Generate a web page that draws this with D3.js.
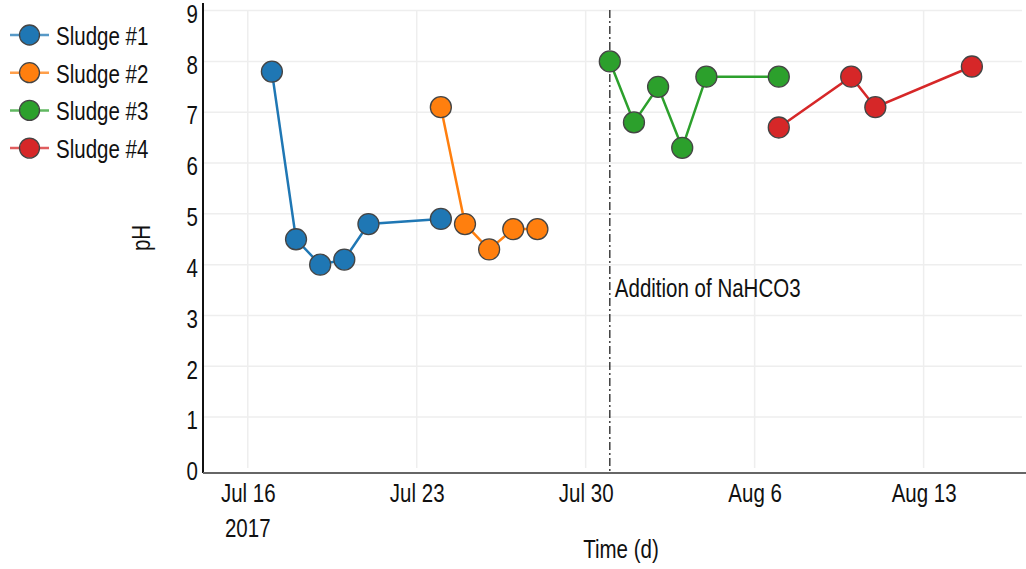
<!DOCTYPE html>
<html>
<head>
<meta charset="utf-8">
<script src="https://cdn.jsdelivr.net/npm/d3@7"></script>
<style>
  html, body { margin: 0; padding: 0; background: #fff; }
  svg { display: block; font-family: "Liberation Sans", Arial, sans-serif; }
</style>
</head>
<body>
<svg id="chart" width="1026" height="569"></svg>
<script>
// pH measurements per sludge batch
const seriesNames = ["Sludge #1", "Sludge #2", "Sludge #3", "Sludge #4"];
const seriesColors = ["#1f77b4", "#ff7f0e", "#2ca02c", "#d62728"];

const sludge1Dates = ["2017-07-17", "2017-07-18", "2017-07-19", "2017-07-20", "2017-07-21", "2017-07-24"];
const sludge1PH    = [7.8, 4.5, 4.0, 4.1, 4.8, 4.9];

const sludge2Dates = ["2017-07-24", "2017-07-25", "2017-07-26", "2017-07-27", "2017-07-28"];
const sludge2PH    = [7.1, 4.8, 4.3, 4.7, 4.7];

const sludge3Dates = ["2017-07-31", "2017-08-01", "2017-08-02", "2017-08-03", "2017-08-04", "2017-08-07"];
const sludge3PH    = [8.0, 6.8, 7.5, 6.3, 7.7, 7.7];

const sludge4Dates = ["2017-08-07", "2017-08-10", "2017-08-11", "2017-08-15"];
const sludge4PH    = [6.7, 7.7, 7.1, 7.9];

const yTicks = [0, 1, 2, 3, 4, 5, 6, 7, 8, 9];
const xTickDates = ["2017-07-16", "2017-07-23", "2017-07-30", "2017-08-06", "2017-08-13"];
const xTickLabels = ["Jul 16", "Jul 23", "Jul 30", "Aug 6", "Aug 13"];
const xTickYear = "2017";

const eventDate = "2017-07-31";
const eventLabel = "Addition of NaHCO3";

const xDomain = ["2017-07-14T03:30", "2017-08-17T01:50"];
const yDomain = [-0.1, 9.15];

const parse = d3.isoParse;
const series = [
  { dates: sludge1Dates, values: sludge1PH },
  { dates: sludge2Dates, values: sludge2PH },
  { dates: sludge3Dates, values: sludge3PH },
  { dates: sludge4Dates, values: sludge4PH }
].map((s, i) => ({
  name: seriesNames[i],
  color: seriesColors[i],
  points: s.dates.map((d, j) => ({ date: parse(d), value: s.values[j] }))
}));

const svg = d3.select("#chart");
const plot = { left: 203, right: 1022, top: 3, bottom: 473 };

const x = d3.scaleTime().domain(xDomain.map(parse)).range([plot.left, plot.right]);
const y = d3.scaleLinear().domain(yDomain).range([plot.bottom, plot.top]);

const fontSize = 25;
const textColor = "#111";

// narrow the text horizontally for a condensed face
function condense(sel) {
  sel.each(function () {
    const t = d3.select(this);
    const tx = +t.attr("x") || 0, ty = +t.attr("y") || 0;
    const prev = t.attr("transform") || "";
    t.attr("x", 0).attr("y", 0)
      .attr("transform", `${prev} translate(${tx},${ty}) scale(0.82,1)`);
  });
}

// grid
const grid = svg.append("g");
grid.selectAll(".gy").data(yTicks.filter(t => t > 0)).join("line")
  .attr("x1", plot.left).attr("x2", plot.right)
  .attr("y1", d => y(d)).attr("y2", d => y(d))
  .attr("stroke", "#eeeeee").attr("stroke-width", 1.5);
grid.selectAll(".gx").data(xTickDates.map(parse)).join("line")
  .attr("x1", d => x(d)).attr("x2", d => x(d))
  .attr("y1", plot.top + 7).attr("y2", plot.bottom - 5)
  .attr("stroke", "#eeeeee").attr("stroke-width", 1.5);

// y axis
const yAxis = svg.append("g").attr("transform", `translate(${plot.left},0)`)
  .call(d3.axisLeft(y).tickValues(yTicks).tickSize(0).tickPadding(5).tickFormat(d3.format("d")));
yAxis.select(".domain").attr("stroke", "#111").attr("stroke-width", 2)
  .attr("d", `M0,${plot.top}V${plot.bottom}`);
yAxis.selectAll("text")
  .attr("font-size", fontSize).attr("fill", textColor)
  .attr("font-family", "Liberation Sans, Arial, sans-serif")
  .attr("dy", "0.47em")
  .call(condense);

// x axis
const xAxis = svg.append("g").attr("transform", `translate(0,${plot.bottom})`)
  .call(d3.axisBottom(x).tickValues(xTickDates.map(parse)).tickSize(0).tickPadding(11)
    .tickFormat((d, i) => xTickLabels[i]));
xAxis.select(".domain").attr("stroke", "#666").attr("stroke-width", 2)
  .attr("d", `M${plot.left},0H1026`);
xAxis.selectAll("text")
  .attr("font-size", fontSize).attr("fill", textColor)
  .attr("font-family", "Liberation Sans, Arial, sans-serif")
  .call(condense);
xAxis.append("text")
  .attr("x", x(parse(xTickDates[0]))).attr("y", 64)
  .attr("text-anchor", "middle").attr("font-size", fontSize).attr("fill", textColor)
  .text(xTickYear).call(condense);

// axis titles
svg.append("text")
  .attr("x", 621).attr("y", 558)
  .attr("text-anchor", "middle").attr("font-size", fontSize).attr("fill", textColor)
  .text("Time (d)").call(condense);
svg.append("text")
  .attr("transform", "translate(150,238) rotate(-90)")
  .attr("text-anchor", "middle").attr("font-size", fontSize).attr("fill", textColor)
  .text("pH").call(condense);

// event marker
const ex = x(parse(eventDate));
svg.append("line")
  .attr("x1", ex).attr("x2", ex).attr("y1", 10).attr("y2", plot.bottom - 2)
  .attr("stroke", "#222").attr("stroke-width", 1.3)
  .attr("stroke-dasharray", "8,3,2,3");
svg.append("text")
  .attr("x", ex + 5).attr("y", 297)
  .attr("font-size", fontSize).attr("fill", textColor)
  .text(eventLabel).call(condense);

// series lines and markers
const line = d3.line().x(d => x(d.date)).y(d => y(d.value));
const g = svg.append("g");
series.forEach(s => {
  g.append("path").datum(s.points)
    .attr("d", line).attr("fill", "none")
    .attr("stroke", s.color).attr("stroke-width", 2.5);
});
series.forEach(s => {
  g.selectAll(null).data(s.points).join("circle")
    .attr("cx", d => x(d.date)).attr("cy", d => y(d.value)).attr("r", 10.5)
    .attr("fill", s.color).attr("stroke", "#444").attr("stroke-width", 1.3);
});

// legend
const legend = svg.append("g");
series.forEach((s, i) => {
  const ly = 35 + i * 37.7;
  legend.append("line").attr("x1", 10).attr("x2", 49).attr("y1", ly).attr("y2", ly)
    .attr("stroke", s.color).attr("stroke-width", 2.5).attr("stroke-opacity", 0.75);
  legend.append("circle").attr("cx", 29.5).attr("cy", ly).attr("r", 10)
    .attr("fill", s.color).attr("stroke", "#444").attr("stroke-width", 1.3);
  legend.append("text").attr("x", 56).attr("y", ly + 10)
    .attr("font-size", fontSize).attr("fill", textColor).text(s.name).call(condense);
});
</script>
</body>
</html>
